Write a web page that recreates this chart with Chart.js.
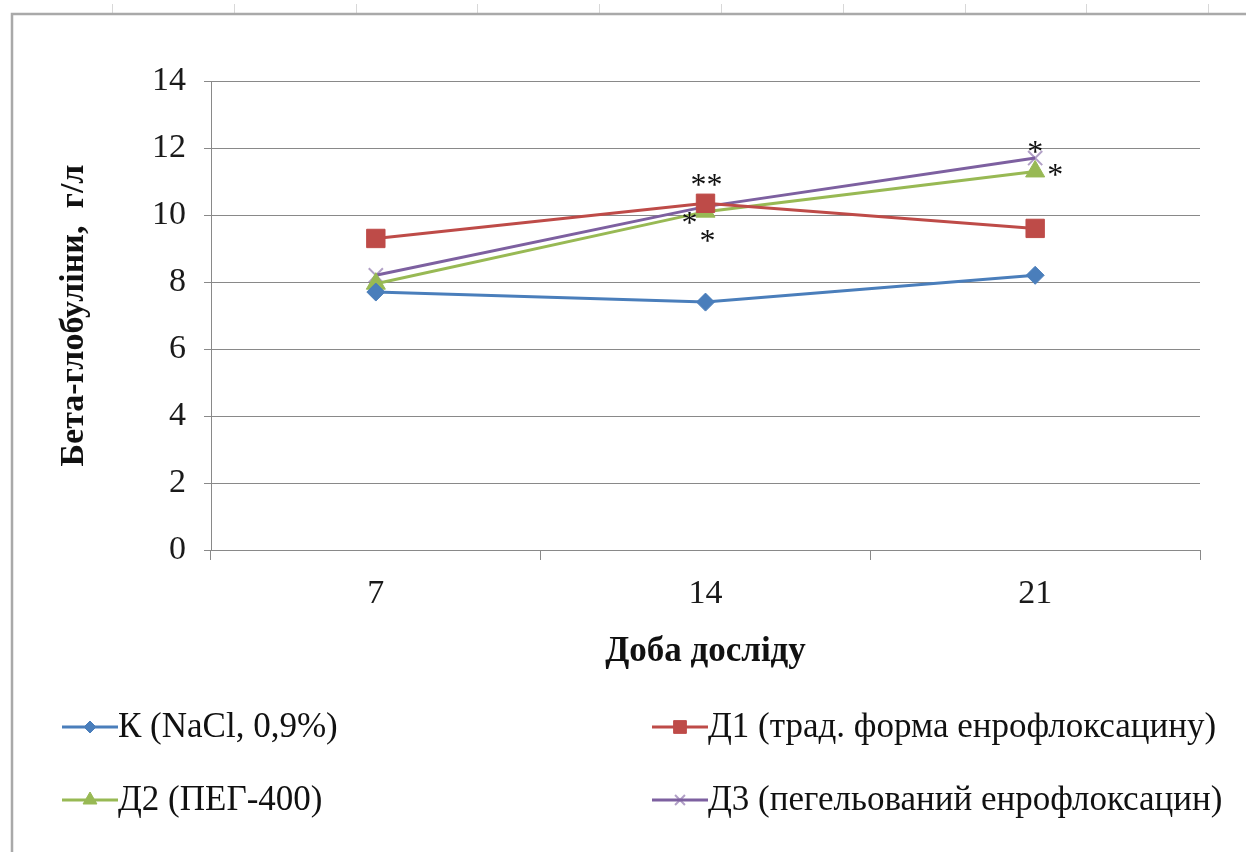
<!DOCTYPE html>
<html>
<head>
<meta charset="utf-8">
<script src="https://cdn.jsdelivr.net/npm/chart.js@4.4.1/dist/chart.umd.min.js"></script>
<style>
  html, body { margin: 0; padding: 0; background: #ffffff; }
  #wrap { position: relative; width: 1246px; height: 852px; }
</style>
</head>
<body>
<div id="wrap"><canvas id="c" width="1246" height="852"></canvas></div>
<script>
// ---- data ----
const categories = ['7', '14', '21'];
const seriesK  = [7.7, 7.4, 8.2];
const seriesD1 = [9.3, 10.35, 9.6];
const seriesD2 = [7.95, 10.1, 11.3];
const seriesD3 = [8.2, 10.25, 11.7];
const seriesNames = ['К (NaCl, 0,9%)', 'Д1 (трад. форма енрофлоксацину)', 'Д2 (ПЕГ-400)', 'Д3 (пегельований енрофлоксацин)'];
const yTitle = 'Бета-глобуліни,  г/л';
const xTitle = 'Доба досліду';
// significance marks: [dataset index, category index, text]
const marks = [
  [1, 1, '**'],
  [2, 1, '*'],
  [2, 1, '*'],
  [3, 2, '*'],
  [2, 2, '*']
];
// ---- styling ----
const markOffsets = [[1, -17], [-16, 13], [2, 31], [0, -4], [20, 5]];
const colors = ['#4a7ebb', '#be4b48', '#98b954', '#7d60a0'];
const pointStyles = ['rectRot', 'rect', 'triangle', 'crossRot'];
const pointRadii = [9, 13, 11, 10];
const legendRadii = [6, 9, 8, 7];
const serif = "'Liberation Serif', 'Times New Roman', serif";

const frameAndMarks = {
  id: 'frameAndMarks',
  beforeDraw(chart) {
    const ctx = chart.ctx;
    ctx.save();
    ctx.fillStyle = '#ffffff';
    ctx.fillRect(0, 0, chart.width, chart.height);
    ctx.strokeStyle = '#d8d8d8';
    ctx.lineWidth = 1;
    for (let x = 112; x < chart.width; x += 121.8) {
      ctx.beginPath(); ctx.moveTo(Math.round(x) + 0.5, 4); ctx.lineTo(Math.round(x) + 0.5, 13); ctx.stroke();
    }
    ctx.strokeStyle = '#a9a9a9';
    ctx.lineWidth = 2.5;
    ctx.beginPath();
    ctx.moveTo(12, chart.height);
    ctx.lineTo(12, 14);
    ctx.lineTo(chart.width, 14);
    ctx.stroke();
    ctx.restore();
  },
  afterDatasetsDraw(chart) {
    const ctx = chart.ctx;
    ctx.save();
    ctx.fillStyle = '#111';
    ctx.font = '32px ' + serif;
    ctx.textAlign = 'center';
    ctx.textBaseline = 'middle';
    marks.forEach((m, i) => {
      const el = chart.getDatasetMeta(m[0]).data[m[1]];
      ctx.fillText(m[2], el.x + markOffsets[i][0], el.y + markOffsets[i][1]);
    });
    // legend
    const cols = [62, 652];
    const rows = [727, 800];
    chart.data.datasets.forEach((ds, i) => {
      const x0 = cols[i % 2];
      const y0 = rows[Math.floor(i / 2)];
      ctx.strokeStyle = ds.borderColor;
      ctx.lineWidth = 3;
      ctx.beginPath(); ctx.moveTo(x0, y0); ctx.lineTo(x0 + 56, y0); ctx.stroke();
      ctx.fillStyle = ds.pointBackgroundColor;
      ctx.strokeStyle = ds.pointBorderColor;
      ctx.lineWidth = ds.pointBorderWidth;
      Chart.helpers.drawPoint(ctx, {
        pointStyle: ds.pointStyle, radius: legendRadii[i], rotation: 0, borderWidth: ds.pointBorderWidth
      }, x0 + 28, y0);
      ctx.fillStyle = '#111';
      ctx.font = '35px ' + serif;
      ctx.textAlign = 'left';
      ctx.textBaseline = 'middle';
      ctx.fillText(ds.label, x0 + 56, y0 + 1);
    });
    ctx.restore();
  }
};

const allSeries = [seriesK, seriesD1, seriesD2, seriesD3];
const datasets = allSeries.map((vals, i) => ({
  label: seriesNames[i],
  data: vals,
  borderColor: colors[i],
  backgroundColor: colors[i],
  pointBackgroundColor: colors[i],
  pointBorderColor: pointStyles[i] === 'crossRot' ? 'rgba(125,96,160,0.6)' : colors[i],
  pointStyle: pointStyles[i],
  pointRadius: pointRadii[i],
  pointBorderWidth: pointStyles[i] === 'crossRot' ? 2 : 1,
  borderWidth: 3,
  tension: 0,
  fill: false
}));

Chart.defaults.font.family = serif;

new Chart(document.getElementById('c'), {
  type: 'line',
  data: { labels: categories, datasets },
  options: {
    responsive: false,
    animation: false,
    devicePixelRatio: 1,
    layout: { padding: { left: 0, top: 81, right: 46, bottom: 180 } },
    plugins: { legend: { display: false }, tooltip: { enabled: false } },
    scales: {
      x: {
        offset: true,
        grid: { offset: true, drawOnChartArea: false, drawTicks: true, tickLength: 10, color: '#898989', lineWidth: 1 },
        border: { color: '#898989', width: 1 },
        ticks: { font: { size: 34, family: serif }, color: '#1a1a1a', padding: 14 },
        title: { display: true, text: xTitle, color: '#111', font: { size: 35, weight: 'bold', family: serif }, padding: { top: 0, bottom: -1 } },
        afterFit(s) { s.height = 122; }
      },
      y: {
        min: 0, max: 14,
        ticks: { stepSize: 2, font: { size: 34, family: serif }, color: '#1a1a1a', padding: 18 },
        grid: { color: '#898989', lineWidth: 1, tickLength: 7, drawTicks: true },
        border: { color: '#898989', width: 1 },
        title: { display: true, text: yTitle, color: '#111', font: { size: 34, weight: 'bold', family: serif }, padding: { top: 54, bottom: 0 } },
        afterFit(s) { s.width = 211; }
      }
    }
  },
  plugins: [frameAndMarks]
});
</script>
</body>
</html>
